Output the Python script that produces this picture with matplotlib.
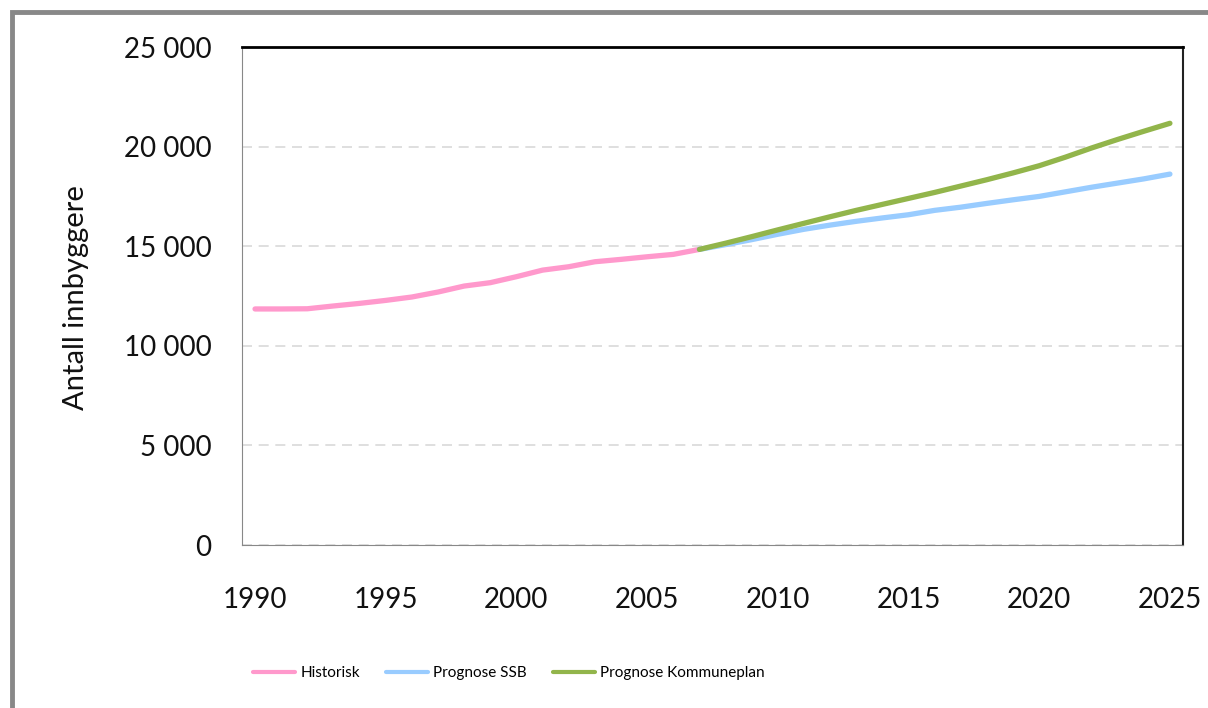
import matplotlib.pyplot as plt
from matplotlib.patches import Rectangle
from matplotlib.ticker import FuncFormatter

# Data (innbyggere per år)
hist_years = list(range(1990, 2008))
hist_vals = [11850, 11850, 11860, 12000, 12130, 12280, 12450, 12700, 13000, 13170,
             13470, 13800, 13970, 14220, 14340, 14470, 14590, 14840]

prog_years = list(range(2007, 2026))
ssb_vals = [14840, 15080, 15330, 15600, 15850, 16060, 16250, 16420, 16580, 16800,
            16960, 17150, 17330, 17500, 17730, 17960, 18170, 18380, 18620]
komm_vals = [14840, 15150, 15480, 15820, 16150, 16480, 16800, 17100, 17400, 17700,
             18020, 18340, 18680, 19040, 19470, 19930, 20360, 20770, 21170]

labels = ["Historisk", "Prognose SSB", "Prognose Kommuneplan"]
colors = ["#ff99cc", "#99ccff", "#92b54b"]

plt.rcParams['font.family'] = ['Lato', 'DejaVu Sans']

fig = plt.figure(figsize=(12.08, 7.08), dpi=100)
ax = fig.add_axes([0.2003, 0.2302, 0.779, 0.7034])

ax.plot(hist_years, hist_vals, color=colors[0], lw=3.8, label=labels[0], solid_capstyle="round")
ax.plot(prog_years, ssb_vals, color=colors[1], lw=3.8, label=labels[1], solid_capstyle="round")
ax.plot(prog_years, komm_vals, color=colors[2], lw=3.8, label=labels[2], solid_capstyle="round")

ax.set_xlim(1989.5, 2025.5)
ax.set_ylim(0, 25000)
ax.set_xticks(range(1990, 2026, 5))
ax.set_yticks(range(0, 25001, 5000))
ax.yaxis.set_major_formatter(FuncFormatter(lambda v, p: f"{int(v):,}".replace(",", " ")))
ax.tick_params(length=0, labelsize=20, colors="#111111")
ax.tick_params(axis="y", pad=22)
ax.tick_params(axis="x", pad=30)

ax.grid(axis="y", color="#d9d9d9", linestyle=(0, (6, 4)), lw=1.2)
ax.set_axisbelow(True)

ax.spines["top"].set_color("black")
ax.spines["top"].set_linewidth(2)
ax.spines["right"].set_color("#222222")
ax.spines["right"].set_linewidth(1.5)
ax.spines["left"].set_color("#888888")
ax.spines["bottom"].set_color("#888888")

fig.text(0.063, 0.58, "Antall innbyggere", rotation=90, ha="center", va="center",
         fontsize=21, color="#111111")

leg = fig.legend(loc="center left", bbox_to_anchor=(253 / 1208, 0.049), ncol=3, frameon=False,
                 fontsize=11, handlelength=2.75, columnspacing=1.7, handletextpad=0.35,
                 borderpad=0, borderaxespad=0)
for line in leg.get_lines():
    line.set_linewidth(3)

# gray outer frame (left and top edges visible)
fig.patches.append(Rectangle((12 / 1208, -0.5), 2.0, 0.5 + 1 - 12 / 708,
                             transform=fig.transFigure, fill=False,
                             edgecolor="#888888", lw=3.5))

plt.savefig("out.png", dpi=100)
plt.close()
